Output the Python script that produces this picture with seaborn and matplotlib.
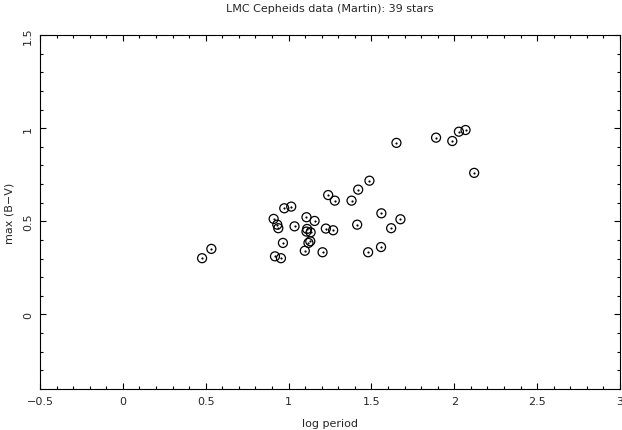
import matplotlib
matplotlib.use("Agg")
import matplotlib.pyplot as plt
import seaborn as sns
import pandas as pd
from matplotlib.ticker import MultipleLocator

log_period = [0.478, 0.534, 0.974, 1.016, 0.910, 0.932, 0.938, 1.036, 0.966, 0.918,
              0.954, 1.488, 1.420, 1.239, 1.279, 1.380, 1.560, 1.675, 1.619, 1.414,
              1.108, 1.157, 1.112, 1.225, 1.269, 1.098, 1.205, 1.480, 1.558, 1.108,
              1.133, 1.131, 1.120, 1.651, 1.890, 1.988, 2.028, 2.068, 2.120]
max_bv = [0.302, 0.352, 0.570, 0.579, 0.513, 0.482, 0.463, 0.473, 0.384, 0.312,
          0.302, 0.718, 0.670, 0.641, 0.611, 0.611, 0.543, 0.511, 0.463, 0.482,
          0.522, 0.502, 0.459, 0.461, 0.452, 0.342, 0.334, 0.334, 0.362, 0.445,
          0.441, 0.393, 0.384, 0.921, 0.949, 0.931, 0.981, 0.990, 0.760]

title = "LMC Cepheids data (Martin): 39 stars"
xlabel = "log period"
ylabel = "max (B\u2212V)"

df = pd.DataFrame({"x": log_period, "y": max_bv})

sns.set_style("white")
plt.rcParams["font.family"] = ["DejaVu Sans"]

fig = plt.figure(figsize=(6.22, 4.31), dpi=100)
ax = fig.add_axes([40/622, 1-390/431, 580/622, 354/431])

sns.scatterplot(data=df, x="x", y="y", ax=ax, marker="o", s=42,
                facecolor="none", edgecolor="black", linewidth=0.9)
sns.scatterplot(data=df, x="x", y="y", ax=ax, marker="o", s=2.5,
                color="black", edgecolor="black", linewidth=0)

ax.set_xlim(-0.5, 3)
ax.set_ylim(-0.4, 1.5)
ax.xaxis.set_major_locator(MultipleLocator(0.5))
ax.xaxis.set_minor_locator(MultipleLocator(0.1))
ax.yaxis.set_major_locator(MultipleLocator(0.5))
ax.yaxis.set_minor_locator(MultipleLocator(0.1))
ax.set_xticks([-0.5, 0, 0.5, 1, 1.5, 2, 2.5, 3])
ax.set_xticklabels(["\u22120.5", "0", "0.5", "1", "1.5", "2", "2.5", "3"])
ax.set_yticks([0, 0.5, 1, 1.5])
ax.set_yticklabels(["0", "0.5", "1", "1.5"], rotation=90, va="center")

ax.tick_params(which="both", direction="in", top=True, right=True, bottom=True, left=True,
               labelsize=8, color="black", width=0.8)
ax.tick_params(which="major", length=4.5, pad=5)
ax.tick_params(which="minor", length=2.2)
for s in ax.spines.values():
    s.set_color("black")
    s.set_linewidth(0.8)

ax.set_xlabel(xlabel, fontsize=8, labelpad=9)
ax.set_ylabel(ylabel, fontsize=8, labelpad=6)
ax.set_title(title, fontsize=8, pad=17)

fig.savefig("out.png", dpi=100)
